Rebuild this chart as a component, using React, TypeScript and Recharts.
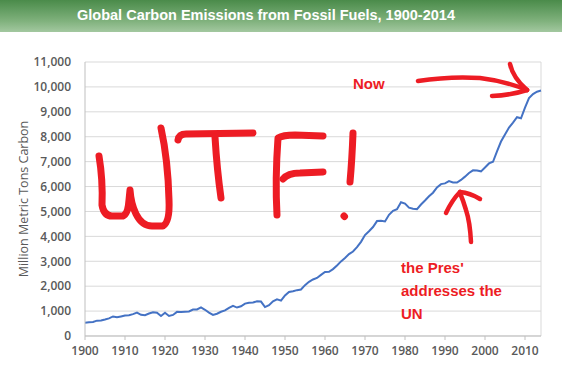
import {
  CartesianGrid,
  Line,
  LineChart,
  ReferenceLine,
  XAxis,
  YAxis,
} from "recharts";

const years = [
  1900, 1901, 1902, 1903, 1904, 1905, 1906, 1907, 1908, 1909,
  1910, 1911, 1912, 1913, 1914, 1915, 1916, 1917, 1918, 1919,
  1920, 1921, 1922, 1923, 1924, 1925, 1926, 1927, 1928, 1929,
  1930, 1931, 1932, 1933, 1934, 1935, 1936, 1937, 1938, 1939,
  1940, 1941, 1942, 1943, 1944, 1945, 1946, 1947, 1948, 1949,
  1950, 1951, 1952, 1953, 1954, 1955, 1956, 1957, 1958, 1959,
  1960, 1961, 1962, 1963, 1964, 1965, 1966, 1967, 1968, 1969,
  1970, 1971, 1972, 1973, 1974, 1975, 1976, 1977, 1978, 1979,
  1980, 1981, 1982, 1983, 1984, 1985, 1986, 1987, 1988, 1989,
  1990, 1991, 1992, 1993, 1994, 1995, 1996, 1997, 1998, 1999,
  2000, 2001, 2002, 2003, 2004, 2005, 2006, 2007, 2008, 2009,
  2010, 2011, 2012, 2013, 2014,
];

// million metric tons of carbon
const emissions = [
  534, 552, 566, 617, 624, 663, 707, 784, 750, 785,
  819, 836, 879, 943, 850, 838, 901, 955, 936, 806,
  932, 803, 845, 970, 963, 975, 983, 1062, 1065, 1145,
  1053, 940, 847, 893, 973, 1027, 1130, 1209, 1142, 1192,
  1299, 1334, 1342, 1391, 1383, 1160, 1238, 1392, 1469, 1419,
  1630, 1767, 1795, 1841, 1865, 2042, 2177, 2270, 2330, 2454,
  2569, 2580, 2686, 2833, 2995, 3130, 3288, 3393, 3566, 3780,
  4053, 4208, 4376, 4614, 4623, 4596, 4864, 5026, 5087, 5369,
  5315, 5152, 5113, 5094, 5280, 5439, 5607, 5752, 5965, 6097,
  6127, 6217, 6164, 6162, 6266, 6398, 6542, 6651, 6643, 6610,
  6765, 6927, 6996, 7416, 7807, 8093, 8370, 8566, 8783, 8740,
  9167, 9548, 9714, 9808, 9855,
];

const xTicks = [1900, 1910, 1920, 1930, 1940, 1950, 1960, 1970, 1980, 1990, 2000, 2010];
const yTicks = [0, 1000, 2000, 3000, 4000, 5000, 6000, 7000, 8000, 9000, 10000, 11000];

const title = "Global Carbon Emissions from Fossil Fuels, 1900-2014";
const yLabel = "Million Metric Tons Carbon";
const nowNote = "Now";
const presNote = ["the Pres'", "addresses the", "UN"];

const RED = "#ed1c24";

export default function App() {
  const data = years.map((y, i) => ({ year: y, value: emissions[i] }));

  return (
    <div
      style={{
        position: "absolute",
        left: 0,
        top: 0,
        width: 562,
        height: 376,
        background: "#fff",
        overflow: "hidden",
      }}
    >
      <div
        style={{
          position: "absolute",
          left: 0,
          top: 0,
          width: 562,
          height: 32,
          background: "linear-gradient(#4a8b4a, #7fb17c 65%, #a3c8a0)",
          color: "#fff",
          fontFamily: "'Liberation Sans', Arial, sans-serif",
          fontWeight: 700,
          fontSize: 14.5,
          lineHeight: "31px",
          textAlign: "center",
          paddingRight: 30,
          boxSizing: "border-box",
        }}
      >
        {title}
      </div>
      <LineChart
        width={562}
        height={376}
        data={data}
        margin={{ top: 62, right: 21, bottom: 10, left: 0 }}
        style={{ fontFamily: "'Open Sans', sans-serif" }}
      >
        <CartesianGrid vertical={false} stroke="#d9d9d9" />
        <XAxis
          dataKey="year"
          type="number"
          domain={[1900, 2014]}
          ticks={xTicks}
          height={30}
          tick={{ fontSize: 12, fill: "#595959", fontWeight: 600 }}
          stroke="#bfbfbf"
          tickSize={4}
          tickMargin={6}
        />
        <YAxis
          type="number"
          domain={[0, 11000]}
          ticks={yTicks}
          width={85}
          tick={{ fontSize: 12, fill: "#595959", fontWeight: 600 }}
          tickFormatter={(v) => v.toLocaleString("en-US")}
          stroke="#bfbfbf"
          tickLine={false}
          tickMargin={8}
          label={{
            value: yLabel,
            angle: -90,
            position: "insideLeft",
            offset: 24,
            style: { fontSize: 12.5, fill: "#595959", textAnchor: "middle" },
          }}
        />
        <ReferenceLine x={2014} stroke="#d9d9d9" />
        <Line
          type="linear"
          dataKey="value"
          stroke="#4472c4"
          strokeWidth={2}
          dot={false}
          isAnimationActive={false}
        />
      </LineChart>

      {/* hand-drawn annotations */}
      <svg
        width={562}
        height={376}
        style={{ position: "absolute", left: 0, top: 0, pointerEvents: "none" }}
      >
        <g
          fill="none"
          stroke={RED}
          strokeWidth={7}
          strokeLinecap="round"
          strokeLinejoin="round"
        >
          <path d="M99 156 Q103 180 102 205 Q104 216 112 216 L123 216 Q128 214 129 200 L130 190 Q131 204 136 214 Q142 226 152 226 L163 226 Q170 222 169 200 Q168 160 161 128" />
          <path d="M178 140 Q179 134 186 134 L253 133" />
          <path d="M215 137 Q217 170 221 198" />
          <path d="M277 215 Q275 180 278 138 Q283 135 295 135 L323 136" />
          <path d="M283 179 Q288 173 300 173 L323 172" />
          <path d="M353 133 Q352 160 350 182" />
          <path d="M344 216 L344.5 216.5" />
        </g>
        <g
          fill="none"
          stroke={RED}
          strokeWidth={4.5}
          strokeLinecap="round"
          strokeLinejoin="round"
        >
          <path d="M418 81 Q450 76 480 78 Q505 81 527 90" />
          <path d="M510 64 Q513 78 527 90" />
          <path d="M492 96 Q512 95 527 90" />
          <path d="M471 242 Q470 222 466 210 Q463 200 460 193" />
          <path d="M446 213 Q452 200 460 192" />
          <path d="M480 199 Q470 193 460 192" />
        </g>
        <g
          fill={RED}
          fontFamily="'Liberation Sans', Arial, sans-serif"
          fontWeight={700}
          fontSize={15}
        >
          <text x={353} y={89}>{nowNote}</text>
          {presNote.map((t, i) => (
            <text key={t} x={401} y={273 + i * 23}>
              {t}
            </text>
          ))}
        </g>
      </svg>
    </div>
  );
}
